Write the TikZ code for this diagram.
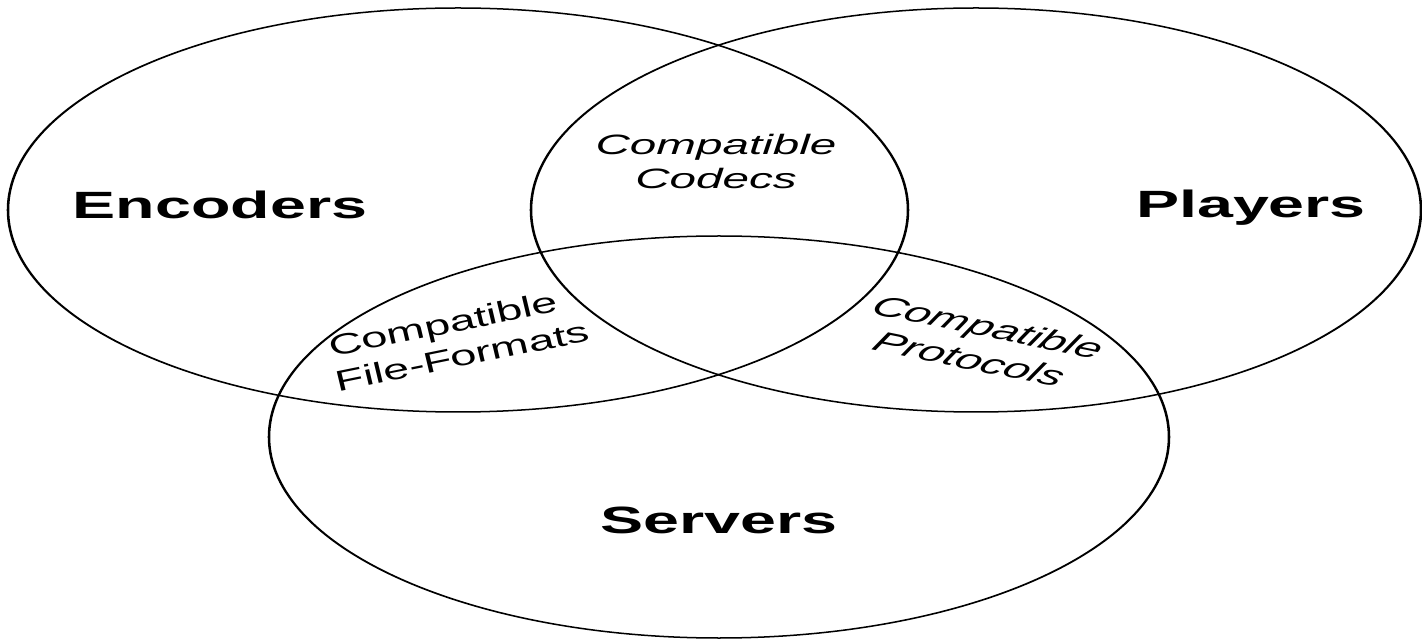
\documentclass[tikz,border=0pt]{standalone}
\usepackage{fontspec}
\setmainfont{Liberation Sans}
\tikzset{
  venn/.style={draw=black, line width=0.75pt},
  setlabel/.style={font=\fontsize{19pt}{22pt}\selectfont\bfseries, inner sep=0pt, anchor=base},
  overlap/.style={font=\fontsize{14pt}{17pt}\selectfont\itshape, inner sep=0pt, anchor=center, align=center},
}
\begin{document}
\begin{tikzpicture}[x=0.5pt,y=-0.5pt]
\fill[white] (0,0) rectangle (1422,640);
\useasboundingbox (0,0) rectangle (1422,640);
\begin{scope}[transform canvas={xscale=1.7}, x=0.294118pt]
  % set centres
  \coordinate (encC) at (458,210);
  \coordinate (plyC) at (976,210);
  \coordinate (srvC) at (719,437);
  % the three sets
  \draw[venn] (encC) ellipse [x radius=450, y radius=202];
  \draw[venn] (plyC) ellipse [x radius=445, y radius=202];
  \draw[venn] (srvC) ellipse [x radius=450, y radius=201];
  % set labels
  \node[setlabel] (enc) at (220,219) {Encoders};
  \node[setlabel] (ply) at (1251,218) {Players};
  \node[setlabel] (srv) at (719,533) {Servers};
  % overlap labels
  \node[overlap] (codec) at (716,162) {Compatible\\Codecs};
  \node[overlap, rotate=19] (ff) at (452,340) {Compatible\\File-Formats};
  \node[overlap, rotate=-19] (pr) at (979,343) {Compatible\\Protocols};
\end{scope}
\end{tikzpicture}
\end{document}
